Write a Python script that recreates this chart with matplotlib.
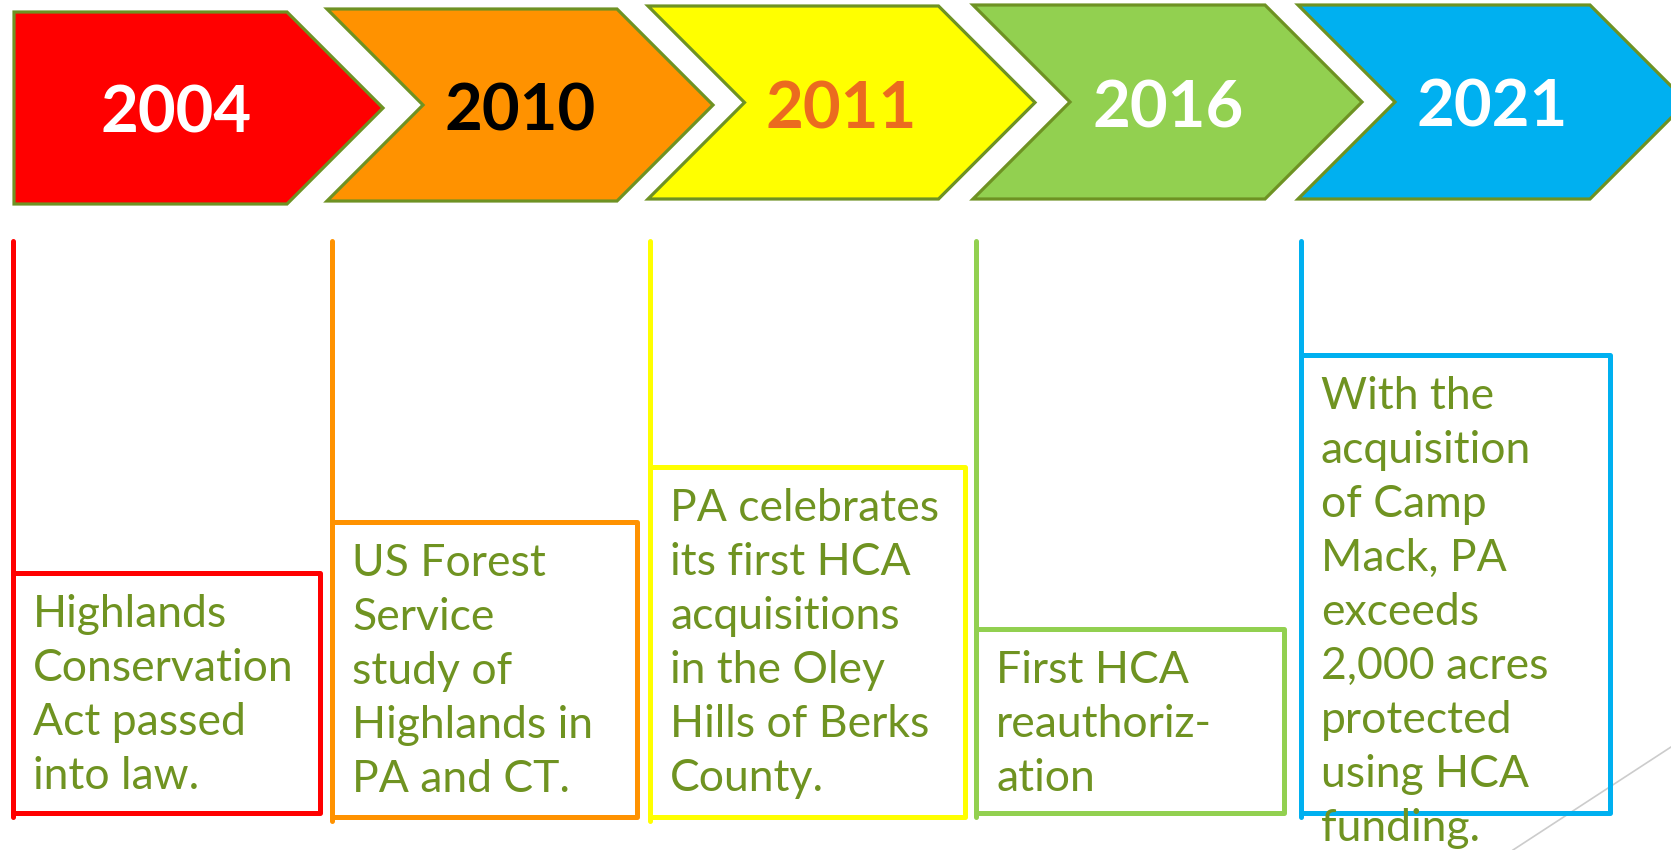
import matplotlib
matplotlib.use("Agg")
import matplotlib.pyplot as plt
from matplotlib.patches import Polygon, Rectangle

# ---- data ----
years = ["2004", "2010", "2011", "2016", "2021"]
fill_colors = ["#FF0000", "#FF9200", "#FFFF00", "#92D050", "#00B0F0"]
year_colors = ["#FFFFFF", "#000000", "#EB6B1F", "#FFFFFF", "#FFFFFF"]
descriptions = [
    ["Highlands", "Conservation", "Act passed", "into law."],
    ["US Forest", "Service", "study of", "Highlands in", "PA and CT."],
    ["PA celebrates", "its first HCA", "acquisitions", "in the Oley", "Hills of Berks", "County."],
    ["First HCA", "reauthoriz-", "ation"],
    ["With the", "acquisition", "of Camp", "Mack, PA", "exceeds", "2,000 acres",
     "protected", "using HCA", "funding."],
]

# ---- layout (pixels) ----
W, H = 1671, 850
chev_left = [14, 327, 648, 973, 1298]
chev_tip = [383, 713, 1035, 1362, 1687]
chev_top = [12, 9, 6, 5, 5]
chev_bot = [204, 201, 199, 199, 199]
year_x = [176, 520, 841, 1168, 1492]
year_base = [132, 130, 128, 127, 126]

box_left = [13, 332, 650, 976, 1301]
box_right = [320, 637, 965, 1284, 1610]
box_top = [573, 522, 467, 629, 355]
box_bot = [813, 817, 817, 813, 813]
vline_top = 241

edge_col = "#6E9223"
text_col = "#6F9321"

fig = plt.figure(figsize=(W / 100, H / 100), dpi=100)
ax = fig.add_axes([0, 0, 1, 1])
ax.set_xlim(0, W)
ax.set_ylim(H, 0)
ax.axis("off")

for i in range(len(years)):
    L, R, T, B = chev_left[i], chev_tip[i], chev_top[i], chev_bot[i]
    d = (B - T) / 2
    M = (T + B) / 2
    S = R - d
    if i == 0:
        pts = [(L, T), (S, T), (R, M), (S, B), (L, B)]
    else:
        pts = [(L, T), (S, T), (R, M), (S, B), (L, B), (L + d, M)]
    ax.add_patch(Polygon(pts, closed=True, facecolor=fill_colors[i],
                         edgecolor=edge_col, linewidth=2.3, joinstyle="miter", zorder=2))
    ax.text(year_x[i], year_base[i], years[i], ha="center", va="baseline",
            fontsize=47, fontweight="bold", family="Lato", color=year_colors[i], zorder=3)

    # vertical connector + box
    lc = fill_colors[i]
    ax.plot([box_left[i], box_left[i]], [vline_top, box_bot[i] + 4], color=lc,
            linewidth=3.6, solid_capstyle="round", zorder=2)
    ax.add_patch(Rectangle((box_left[i], box_top[i]), box_right[i] - box_left[i],
                           box_bot[i] - box_top[i], facecolor="none", edgecolor=lc,
                           linewidth=3.6, joinstyle="round", zorder=2))
    for j, line in enumerate(descriptions[i]):
        ax.text(box_left[i] + 20, box_top[i] + 54 + j * 54, line, ha="left", va="baseline",
                fontsize=32, family="Lato", color=text_col, zorder=3)

# slide decoration line
ax.plot([1513, 1671], [850, 747], color="#CCCCCC", linewidth=1.2, zorder=1)

fig.savefig("out.png", dpi=100, facecolor="white")
